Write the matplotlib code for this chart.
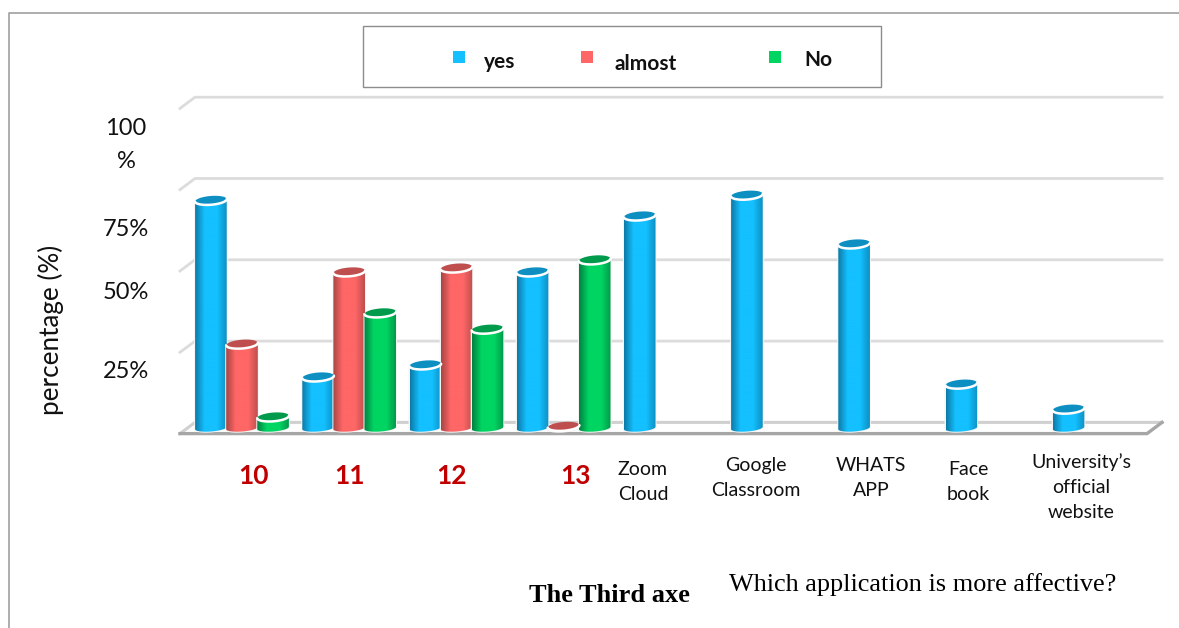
import numpy as np
import matplotlib
matplotlib.use('Agg')
import matplotlib.pyplot as plt
from matplotlib.colors import LinearSegmentedColormap
from matplotlib.lines import Line2D
from matplotlib.patches import Polygon, Rectangle

# Values (None = no bar drawn)
categories = ['10', '11', '12', '13', 'Zoom\nCloud', 'Google\nClassroom',
              'WHATS\nAPP', 'Face\nbook', 'University\u2019s\nofficial\nwebsite']
yes_values = [70, 15.7, 19.4, 48, 65.2, 71.6, 56.6, 13.5, 5.8]
almost_values = [25.8, 48, 49.2, 0.5, None, None, None, None, None]
no_values = [3.4, 35.4, 30.4, 51.7, None, None, None, None, None]
y_ticks = [0, 25, 50, 75, 100]
y_tick_labels = ['100\n%', '75%', '50%', '25%']

W, H = 1179, 628
# pixel calibration of the data axes
PX_PER_CAT = 107.2
PX_PER_PCT = 81.3 / 25
X0_PX, Y0_PX = 242, 428
BAR_W = 0.295
OFFSET = 0.29

COLORS = {
    'yes': ('#0E7AA8', '#14C0FF', '#0E8FC2'),
    'almost': ('#A84646', '#FF6666', '#BF4F4F'),
    'no': ('#008240', '#00D562', '#009A4C'),
}


def fx(px):
    return px / W


def fy(py):
    return 1 - py / H


def draw_cylinder(ax, x, value, key):
    edge, mid, top = COLORS[key]
    half = BAR_W / 2
    ry = 4.4 / PX_PER_PCT
    tilt = 1.2 / PX_PER_PCT
    order = 3 + x * 0.01

    # body outline: straight sides with a rounded bottom, clips the gradient
    t_low = np.linspace(np.pi, 2 * np.pi, 30)
    bx = x + half * np.cos(t_low)
    by = 0.8 * ry * np.sin(t_low) + tilt * np.cos(t_low)
    verts = list(zip(bx, by)) + [(x + half, value + tilt), (x - half, value - tilt)]
    body = Polygon(verts, closed=True, facecolor='none', edgecolor='#F4F4F4',
                   linewidth=1.4, zorder=order)
    ax.add_patch(body)

    if value > 1:
        cmap = LinearSegmentedColormap.from_list(
            key, [(0, edge), (0.3, mid), (0.7, mid), (1, top)])
        grad = np.linspace(0, 1, 64).reshape(1, -1)
        img = ax.imshow(grad, extent=(x - half, x + half, -ry, value + tilt),
                        cmap=cmap, aspect='auto', zorder=order)
        img.set_clip_path(body)

    t = np.linspace(0, 2 * np.pi, 60)
    ex = x + half * np.cos(t)
    ey = value + ry * np.sin(t) + tilt * np.cos(t)
    ax.add_patch(Polygon(np.column_stack([ex, ey]), closed=True, facecolor=top,
                         edgecolor='none', zorder=order + 0.5))
    # white rim along the front of the top
    ax.plot(ex[30:], ey[30:], color='white', lw=1.8, solid_capstyle='round', zorder=order + 0.6)


fig = plt.figure(figsize=(W / 100, H / 100), dpi=100)
ax = fig.add_axes([0, 0, 1, 1])
ax.axis('off')

# depth of the chart floor, expressed in data units
dx = 7.5 / PX_PER_CAT
dy = 5.6 / PX_PER_PCT
x_left = (180 - X0_PX) / PX_PER_CAT + dx
x_right = (1147 - X0_PX) / PX_PER_CAT

for tick in y_ticks[1:]:
    ax.plot([x_left - dx, x_left + dx, x_right + 2 * dx], [tick - dy, tick + dy, tick + dy],
            color='#DCDCDC', lw=2.0, solid_joinstyle='miter', zorder=1)
ax.plot([x_left - dx, x_left + dx, x_right + 2 * dx], [-dy, dy, dy],
        color='#D0D0D0', lw=2.2, zorder=1)
ax.plot([x_left - dx, x_right, x_right + 2 * dx], [-dy, -dy, dy],
        color='#A6A6A6', lw=2.4, solid_joinstyle='miter', zorder=2)

positions = np.arange(len(categories))
for i in positions:
    draw_cylinder(ax, i - OFFSET, yes_values[i], 'yes')
    if almost_values[i] is not None:
        draw_cylinder(ax, i, almost_values[i], 'almost')
    if no_values[i] is not None:
        draw_cylinder(ax, i + OFFSET, no_values[i], 'no')

ax.set_xlim(-X0_PX / PX_PER_CAT, (W - X0_PX) / PX_PER_CAT)
ax.set_ylim((Y0_PX - H) / PX_PER_PCT, Y0_PX / PX_PER_PCT)

# outer frame, open on the right and bottom
fig.add_artist(Line2D([fx(9), fx(9), fx(1179)], [fy(628), fy(13), fy(13)],
                      color='#A0A0A0', lw=1.2))

# legend box
fig.add_artist(Rectangle((fx(363), fy(87)), 518 / W, 61 / H, facecolor='white',
                         edgecolor='#8C8C8C', lw=1.0, transform=fig.transFigure))
for px, py, key in [(459, 57, 'yes'), (587, 57, 'almost'), (775, 57, 'no')]:
    fig.add_artist(Rectangle((fx(px - 6), fy(py + 6)), 12 / W, 12 / H, facecolor=COLORS[key][1],
                             edgecolor='none', transform=fig.transFigure))
sans = 'Lato'
for px, py, label in [(500, 62, 'yes'), (646, 64, 'almost'), (818, 60, 'No')]:
    fig.text(fx(px), fy(py), label, family=sans, weight='bold', fontsize=15,
             ha='center', va='center', color='#111111')

# value axis labels, placed as they are in the picture
for py, label in zip([145, 229, 293, 371], y_tick_labels):
    fig.text(fx(126), fy(py), label, family=sans, fontsize=17, ha='center', va='center',
             color='#111111', linespacing=1.75)
fig.text(fx(51), fy(330), 'percentage (%)', family=sans, fontsize=18.8, rotation=90,
         ha='center', va='center', color='#111111')

# category labels
label_pos = [(254, 476), (349, 476), (452, 476), (575, 476), (643, 482),
             (756, 478), (871, 478), (968, 482), (1081, 487)]
for i, (label, (px, py)) in enumerate(zip(categories, label_pos)):
    if i < 4:
        fig.text(fx(px), fy(py), label, family=sans, weight='bold', fontsize=19,
                 color='#C00000', ha='center', va='center')
    else:
        fig.text(fx(px), fy(py), label, family=sans, fontsize=14, color='#111111',
                 ha='center', va='center', linespacing=1.55)

fig.text(fx(609), fy(596), 'The Third axe', family='Liberation Serif', weight='bold',
         fontsize=19, ha='center', va='center', color='black')
fig.text(fx(923), fy(585), 'Which application is more affective?', family='Liberation Serif',
         fontsize=18.9, ha='center', va='center', color='black')

fig.savefig('out.png', dpi=100)
plt.close(fig)
